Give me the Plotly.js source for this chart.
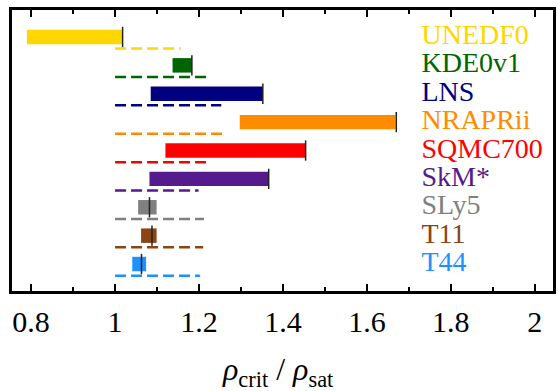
<!DOCTYPE html>
<html>
<head>
<meta charset="utf-8">
<script src="https://cdn.plot.ly/plotly-3.0.1.min.js"></script>
<style>html,body{margin:0;padding:0;background:#fff;}#chart{width:558px;height:391px;}</style>
</head>
<body>
<div id="chart"></div>
<script>
var names = ["UNEDF0","KDE0v1","LNS","NRAPRii","SQMC700","SkM*","SLy5","T11","T44"];
var colors = ["#FFD700","#006400","#000080","#FF8C00","#FF0000","#551A8B","#808080","#8B4513","#1E90FF"];
var barLow  = [0.790, 1.137, 1.085, 1.297, 1.120, 1.082, 1.055, 1.062, 1.041];
var barHigh = [1.018, 1.183, 1.352, 1.668, 1.454, 1.365, 1.099, 1.099, 1.074];
var markVal = [1.018, 1.183, 1.352, 1.670, 1.454, 1.366, 1.082, 1.088, 1.063];
var dashLow  = [1.0, 1.0, 1.0, 1.0, 1.0, 1.0, 1.0, 1.0, 1.0];
var dashHigh = [1.156, 1.218, 1.253, 1.255, 1.218, 1.199, 1.212, 1.210, 1.202];
var tickVals = [0.8, 1.0, 1.2, 1.4, 1.6, 1.8, 2.0];
var tickText = ["0.8","1","1.2","1.4","1.6","1.8","2"];
var labelX = 1.730;

var SERIF = 'Liberation Serif';
var rows = names.map(function(_, i){ return i; });
var traces = [];
traces.push({
  type: 'bar', orientation: 'h',
  y: rows,
  base: barLow,
  x: barHigh.map(function(h, i){ return h - barLow[i]; }),
  width: 0.51,
  marker: {color: colors, line: {width: 0}},
  hoverinfo: 'skip'
});
var dashOffset = 0.41;
names.forEach(function(n, i){
  traces.push({
    type: 'scatter', mode: 'lines',
    x: [dashLow[i], dashHigh[i]],
    y: [i + dashOffset, i + dashOffset],
    line: {color: colors[i], width: 2.5, dash: '11px,5px'},
    hoverinfo: 'skip'
  });
});
traces.push({
  type: 'scatter', mode: 'markers',
  x: markVal, y: rows,
  marker: {symbol: 'line-ns', size: 14.5, color: '#222', line: {color: '#222', width: 1.5}},
  hoverinfo: 'skip'
});
traces.push({
  type: 'scatter', mode: 'text',
  x: names.map(function(){ return labelX; }), y: rows,
  text: names, textposition: 'middle right',
  textfont: {family: SERIF, size: 28, color: colors},
  hoverinfo: 'skip', cliponaxis: false
});

var layout = {
  width: 558, height: 391,
  margin: {l: 12, r: 4.5, t: 10, b: 100, pad: 0},
  paper_bgcolor: '#fff', plot_bgcolor: '#fff',
  showlegend: false, hovermode: false,
  font: {family: SERIF, color: '#000'},
  xaxis: {
    range: [0.7545, 2.0433],
    tickvals: tickVals, ticktext: tickText,
    ticks: 'inside', ticklen: 7, tickwidth: 2, tickcolor: '#000',
    showline: true, linewidth: 3, linecolor: '#000', mirror: 'allticks',
    showgrid: false, zeroline: false, ticklabelstandoff: 2,
    tickfont: {family: SERIF, size: 30, color: '#000'},
    minor: {dtick: 0.1, tick0: 0, ticks: 'inside', ticklen: 4, tickwidth: 2, tickcolor: '#000', showgrid: false}
  },
  yaxis: {
    range: [8.95, -0.95],
    showline: true, linewidth: 3, linecolor: '#000', mirror: true,
    showticklabels: false, ticks: '', showgrid: false, zeroline: false
  },
  annotations: [{
    xref: 'paper', yref: 'paper', x: 0.492, y: -0.207,
    xanchor: 'center', yanchor: 'top', showarrow: false,
    text: '<i>ρ</i><sub>crit</sub> / <i>ρ</i><sub>sat</sub>',
    font: {family: SERIF, size: 32, color: '#000'}
  }]
};

Plotly.newPlot('chart', traces, layout, {staticPlot: true, displayModeBar: false});
</script>
</body>
</html>
